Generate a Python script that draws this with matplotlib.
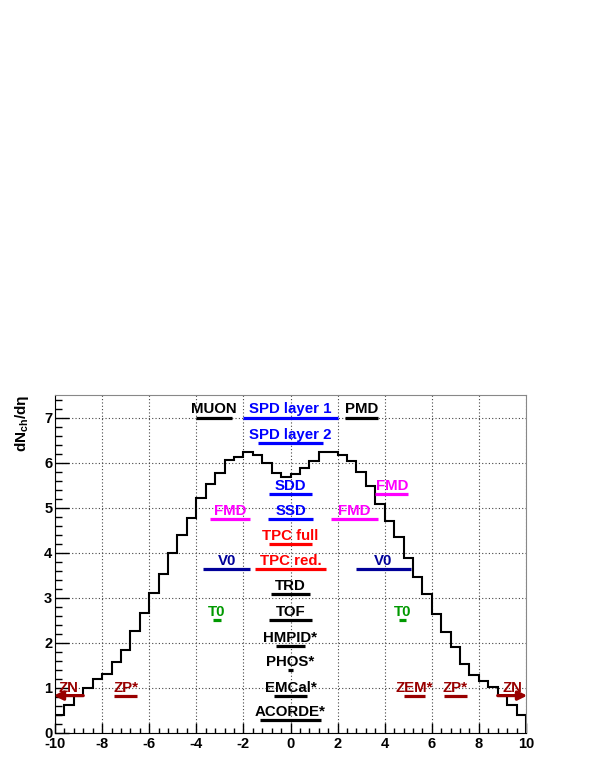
import numpy as np
import matplotlib
matplotlib.use('Agg')
from matplotlib import pyplot as plt
from matplotlib.ticker import MultipleLocator

plt.rcParams['font.family'] = ['Liberation Sans', 'DejaVu Sans']
plt.rcParams['mathtext.default'] = 'regular'
plt.rcParams['axes.unicode_minus'] = False

# dN/deta histogram, 50 bins of 0.4 between -10 and 10
eta_lo, eta_hi, n_bins = -10.0, 10.0, 50
dndeta = [0.41, 0.63, 0.83, 1.00, 1.19, 1.32, 1.57, 1.85, 2.27, 2.67,
          3.10, 3.53, 4.00, 4.39, 4.77, 5.22, 5.52, 5.78, 6.06, 6.12,
          6.23, 6.17, 6.00, 5.77, 5.69,
          5.75, 5.87, 6.04, 6.23, 6.23, 6.16, 6.03, 5.80, 5.47, 5.09,
          4.70, 4.35, 3.89, 3.46, 3.08, 2.65, 2.24, 1.90, 1.53, 1.29,
          1.16, 1.01, 0.82, 0.62, 0.40]

# detector acceptance bars
det_names = ['MUON', 'SPD layer 1', 'PMD', 'SPD layer 2', 'SDD', 'FMD',
             'SSD', 'FMD', 'FMD', 'TPC full', 'V0', 'TPC red.', 'V0',
             'TRD', 'T0', 'TOF', 'T0', 'HMPID*', 'PHOS*',
             'ZP*', 'EMCal*', 'ZEM*', 'ZP*', 'ACORDE*']
det_lo = [-4.0, -2.0, 2.3, -1.4, -0.9, 3.6, -0.95, -3.4, 1.7, -0.9, -3.7, -1.5, 2.8,
          -0.84, -3.28, -0.9, 4.6, -0.6, -0.12, -7.5, -0.7, 4.8, 6.5, -1.3]
det_hi = [-2.5, 2.0, 3.7, 1.4, 0.9, 5.0, 0.95, -1.7, 3.7, 0.9, -1.7, 1.5, 5.1,
          0.84, -2.97, 0.9, 4.92, 0.6, 0.12, -6.5, 0.7, 5.7, 7.5, 1.3]
det_y = [7.0, 7.0, 7.0, 6.43, 5.31, 5.31, 4.75, 4.75, 4.75, 4.2, 3.63, 3.63, 3.63,
         3.08, 2.5, 2.5, 2.5, 1.94, 1.4, 0.83, 0.83, 0.83, 0.83, 0.28]
det_col = ['black', 'blue', 'black', 'blue', 'blue', 'magenta',
           'blue', 'magenta', 'magenta', 'red', '#000099', 'red', '#000099',
           'black', '#009900', 'black', '#009900', 'black', 'black',
           '#990000', 'black', '#990000', '#990000', 'black']

# ZN: arrows pointing outward
zn_start = [-8.8, 8.8]
zn_end = [-10.05, 10.05]
zn_y = 0.83
zn_col = '#990000'

edges = np.linspace(eta_lo, eta_hi, n_bins + 1)

fig = plt.figure(figsize=(5.98, 7.74), dpi=100)
ax = fig.add_axes([55/598, 41/774, 471/598, 338/774])

ax.stairs(dndeta, edges, color='black', linewidth=1.5, zorder=2)

for name, lo, hi, y, c in zip(det_names, det_lo, det_hi, det_y, det_col):
    ax.plot([lo, hi], [y, y], color=c, lw=2.3, solid_capstyle='butt', zorder=3)
    ax.text((lo+hi)/2, y+0.09, name, ha='center', va='baseline', color=c,
            fontsize=10.8, fontweight='bold', zorder=4)

for s, e in zip(zn_start, zn_end):
    ax.annotate('', xy=(e, zn_y), xytext=(s, zn_y), annotation_clip=False,
                arrowprops=dict(arrowstyle='-|>', color=zn_col, lw=2.3,
                                mutation_scale=13, shrinkA=0, shrinkB=0), zorder=3)
    ax.text((s+e)/2, zn_y+0.09, 'ZN', ha='center', va='baseline', color=zn_col,
            fontsize=10.8, fontweight='bold', zorder=4)

ax.set_xlim(eta_lo, eta_hi)
ax.set_ylim(0, 7.5)
ax.xaxis.set_major_locator(MultipleLocator(2))
ax.xaxis.set_minor_locator(MultipleLocator(0.4))
ax.yaxis.set_major_locator(MultipleLocator(1))
ax.yaxis.set_minor_locator(MultipleLocator(0.2))
ax.tick_params(axis='x', which='major', direction='in', length=7, width=1, pad=3)
ax.tick_params(axis='x', which='minor', direction='in', length=3.5, width=1)
ax.tick_params(axis='y', which='major', direction='in', length=10, width=1, pad=2)
ax.tick_params(axis='y', which='minor', direction='in', length=5, width=1)
for lab in ax.get_xticklabels() + ax.get_yticklabels():
    lab.set_fontweight('bold')
    lab.set_fontsize(10.5)

ax.grid(True, which='major', linestyle=(0, (1, 2)), color='#444444', linewidth=0.8)
ax.set_axisbelow(True)
for sp in ['top', 'right']:
    ax.spines[sp].set_color('#888888')

ax.text(-0.07, 1.0, 'dN$_{ch}$/dη', rotation=90, ha='center', va='top',
        transform=ax.transAxes, fontsize=11, fontweight='bold')

fig.savefig('out.png', dpi=100)
